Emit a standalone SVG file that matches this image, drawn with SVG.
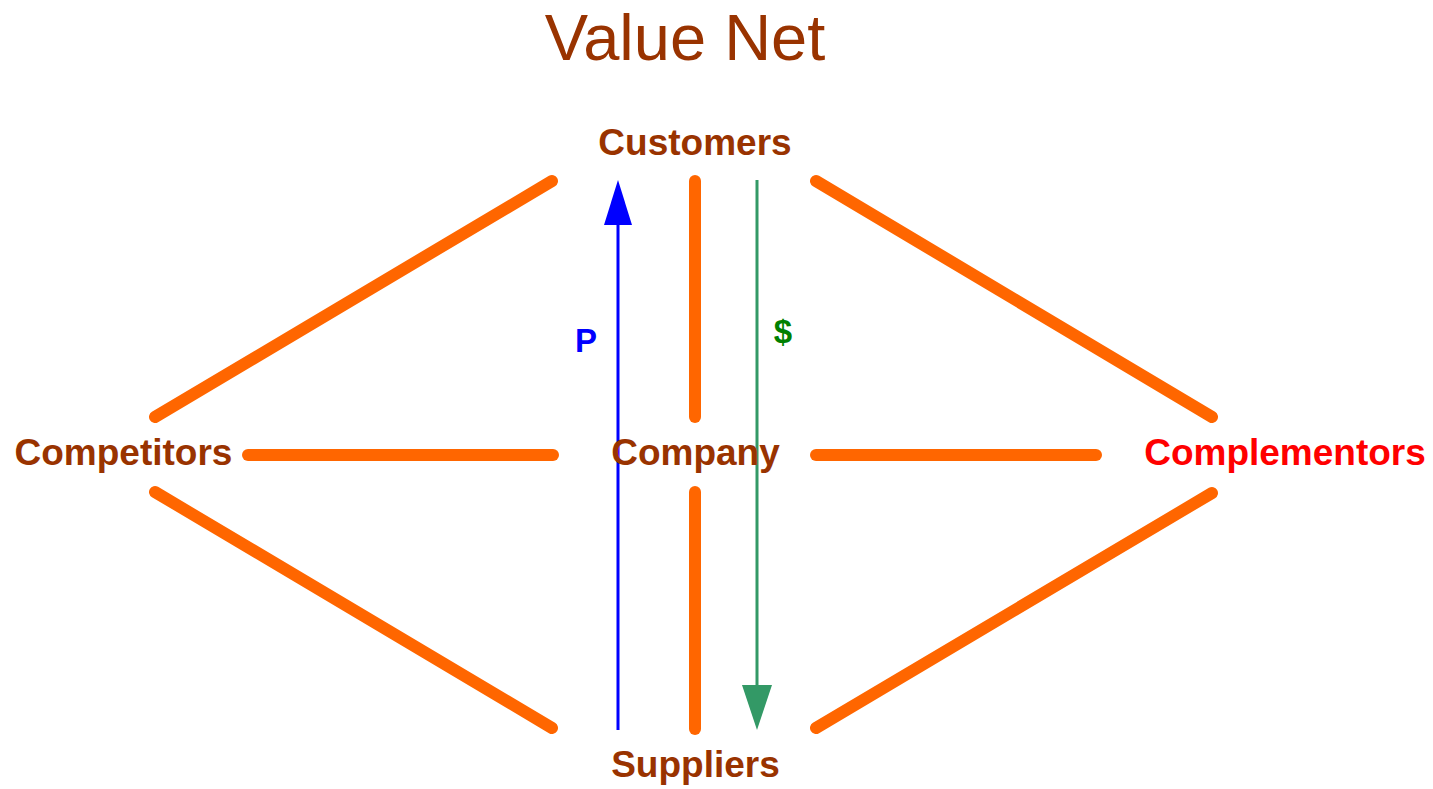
<svg xmlns="http://www.w3.org/2000/svg" width="1433" height="789" viewBox="0 0 1433 789">
  <style>
    .title { font-family: "Liberation Sans", Arial, sans-serif; font-size: 65px; fill: #993300; text-anchor: middle; }
    .label { font-family: "Liberation Sans", Arial, sans-serif; font-weight: bold; font-size: 37px; fill: #993300; text-anchor: middle; }
    .link { stroke: #ff6600; stroke-width: 12; stroke-linecap: round; fill: none; }
    .flow-p { stroke: #0000ff; stroke-width: 3; fill: none; }
    .flow-d { stroke: #339966; stroke-width: 3; fill: none; }
    .tag { font-family: "Liberation Sans", Arial, sans-serif; font-weight: bold; font-size: 33px; text-anchor: middle; }
  </style>

  <rect width="1433" height="789" fill="#ffffff"/>

  <text class="title" x="685" y="60">Value Net</text>

  <g id="connectors">
    <line class="link" x1="695" y1="181" x2="695" y2="417"/>
    <line class="link" x1="695" y1="492" x2="695" y2="729"/>
    <line class="link" x1="248" y1="455" x2="553" y2="455"/>
    <line class="link" x1="816" y1="455" x2="1096" y2="455"/>
    <line class="link" x1="155" y1="417" x2="552" y2="181"/>
    <line class="link" x1="816" y1="181" x2="1212" y2="417"/>
    <line class="link" x1="155" y1="492" x2="552" y2="728"/>
    <line class="link" x1="816" y1="728" x2="1212" y2="493"/>

    <!-- product flow up to customers -->
    <line class="flow-p" x1="618" y1="730" x2="618" y2="215"/>
    <polygon points="618,180 604,225 632,225" fill="#0000ff"/>
    <text class="tag" x="586" y="352" fill="#0000ff">P</text>

    <!-- money flow down to suppliers -->
    <line class="flow-d" x1="757" y1="180" x2="757" y2="695"/>
    <polygon points="757,730 742,685 772,685" fill="#339966"/>
    <text class="tag" x="783" y="343" fill="#008000">$</text>
  </g>

  <g id="customers"><text class="label" x="695" y="155">Customers</text></g>
  <g id="competitors"><text class="label" x="123.5" y="465">Competitors</text></g>
  <g id="company"><text class="label" x="695.5" y="465">Company</text></g>
  <g id="complementors"><text class="label" x="1285" y="465" style="fill:#ff0000">Complementors</text></g>
  <g id="suppliers"><text class="label" x="695.5" y="777">Suppliers</text></g>
</svg>
